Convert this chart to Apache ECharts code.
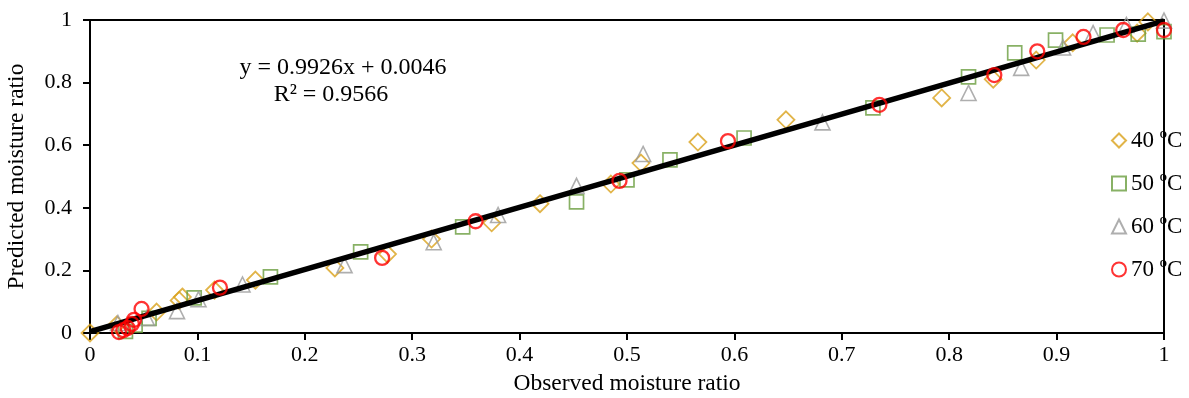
<!DOCTYPE html>
<html><head><meta charset="utf-8">
<script src="https://cdn.jsdelivr.net/npm/echarts@6/dist/echarts.min.js"></script>
<style>html,body{margin:0;padding:0;background:#fff}#c{width:1189px;height:398px}</style>
</head><body><div id="c"></div>
<script>
const seriesNames = ['40 ºC', '50 ºC', '60 ºC', '70 ºC'];
const data40 = [[0,0],[0.025,0.026],[0.062,0.067],[0.083,0.104],[0.086,0.115],[0.116,0.137],[0.154,0.169],[0.228,0.208],[0.277,0.252],[0.318,0.300],[0.374,0.352],[0.419,0.413],[0.485,0.476],[0.513,0.543],[0.566,0.610],[0.648,0.681],[0.793,0.751],[0.841,0.811],[0.881,0.872],[0.915,0.927],[0.975,0.958],[0.985,0.994]];
const data50 = [[0.033,0.005],[0.042,0.025],[0.055,0.047],[0.097,0.112],[0.168,0.179],[0.252,0.259],[0.347,0.339],[0.453,0.419],[0.500,0.489],[0.540,0.553],[0.609,0.623],[0.729,0.719],[0.818,0.818],[0.861,0.895],[0.899,0.936],[0.947,0.952],[0.976,0.955],[1.0,0.963]];
const data60 = [[0.026,0.032],[0.053,0.048],[0.081,0.070],[0.101,0.108],[0.142,0.155],[0.237,0.217],[0.320,0.290],[0.380,0.377],[0.453,0.470],[0.515,0.572],[0.682,0.673],[0.818,0.767],[0.867,0.847],[0.906,0.912],[0.934,0.958],[0.965,0.984],[1.0,0.998]];
const data70 = [[0.027,0.003],[0.031,0.009],[0.035,0.016],[0.039,0.029],[0.041,0.042],[0.048,0.077],[0.121,0.145],[0.272,0.240],[0.359,0.357],[0.493,0.486],[0.594,0.613],[0.735,0.729],[0.842,0.824],[0.882,0.900],[0.925,0.946],[0.962,0.968],[1.0,0.968]];
const fitLine = [[0,0.0046],[1,0.9972]];
const eqText = 'y = 0.9926x + 0.0046';
const r2Text = 'R² = 0.9566';
const xTitle = 'Observed moisture ratio';
const yTitle = 'Predicted moisture ratio';

const FONT = '"Liberation Serif","Times New Roman",serif';
const chart = echarts.init(document.getElementById('c'));
function sc(name, data, symbol, size, color, bw, z){
  return {name, type:'scatter', data, symbol, symbolSize:size, z,
    itemStyle:{color:'rgba(0,0,0,0)', borderColor:color, borderWidth:bw},
    emphasis:{disabled:true}};
}
chart.setOption({
  animation:false,
  grid:{left:90, right:25, top:20, bottom:65, show:true, borderColor:'#000', borderWidth:2,
    containLabel:false, outerBoundsMode:'none'},
  xAxis:{type:'value', min:0, max:1, interval:0.1,
    name:xTitle, nameLocation:'middle', nameGap:39,
    nameTextStyle:{fontFamily:FONT, fontSize:23.5, color:'#000'},
    axisLine:{onZero:false, lineStyle:{color:'#000', width:2}},
    axisTick:{show:true, inside:false, length:7, lineStyle:{color:'#000', width:2}},
    axisLabel:{fontFamily:FONT, fontSize:22, color:'#000', margin:11},
    splitLine:{show:false}},
  yAxis:{type:'value', min:0, max:1, interval:0.2,
    name:yTitle, nameLocation:'middle', nameGap:61,
    nameTextStyle:{fontFamily:FONT, fontSize:23.5, color:'#000'},
    axisLine:{onZero:false, lineStyle:{color:'#000', width:2}},
    axisTick:{show:true, inside:false, length:7, lineStyle:{color:'#000', width:2}},
    axisLabel:{fontFamily:FONT, fontSize:22, color:'#000', margin:18},
    splitLine:{show:false}},
  legend:{orient:'vertical', left:1106, top:124, itemGap:20, itemWidth:14, itemHeight:14,
    textStyle:{fontFamily:FONT, fontSize:23, color:'#000'},
    data:seriesNames},
  graphic:[
    {type:'text', x:343, y:68, style:{text:eqText, font:'24px '+FONT, fill:'#000', textAlign:'center', textVerticalAlign:'middle'}},
    {type:'text', x:331, y:95, style:{text:r2Text, font:'24px '+FONT, fill:'#000', textAlign:'center', textVerticalAlign:'middle'}}
  ],
  series:[
    sc(seriesNames[0], data40, 'diamond', 17, '#D9A11A', 1.8, 2),
    sc(seriesNames[1], data50, 'rect', 14, '#6A9E3F', 1.7, 3),
    sc(seriesNames[2], data60, 'triangle', 15, '#9A9A9A', 1.6, 4),
    {type:'line', data:fitLine, symbol:'none', z:5, lineStyle:{color:'#000', width:5.5}, emphasis:{disabled:true}},
    sc(seriesNames[3], data70, 'circle', 14, '#FF0000', 2.3, 6)
  ]
});
</script></body></html>
